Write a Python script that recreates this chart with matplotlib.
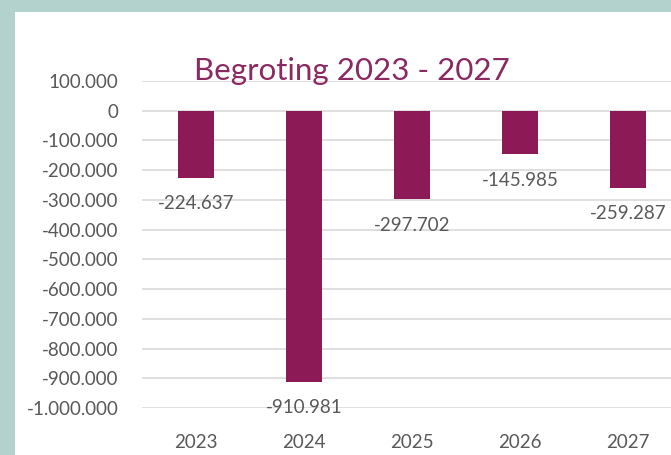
import matplotlib
matplotlib.use("Agg")
import matplotlib.pyplot as plt
from matplotlib.patches import Rectangle
from matplotlib.ticker import FuncFormatter, MultipleLocator

jaren = ["2023", "2024", "2025", "2026", "2027"]
saldo = [-224637, -910981, -297702, -145985, -259287]

BAR = "#8c1a57"
TITLE = "#8a2a60"
TEAL = "#b3d1cd"
GRID = "#dcdcdc"
TXT = "#595959"

plt.rcParams["font.family"] = ["Lato", "DejaVu Sans"]


def nl(v, pos=None):
    # Dutch style thousands separator
    s = f"{abs(int(round(v))):,}".replace(",", ".")
    return "-" + s if v < 0 else s


W, H = 671, 455
fig = plt.figure(figsize=(W / 100, H / 100), dpi=100)
fig.patch.set_facecolor(TEAL)
fig.patches.append(Rectangle((15 / W, 0), 1, 1 - 12 / H, transform=fig.transFigure,
                             facecolor="white", edgecolor="none", zorder=-5))

ax = fig.add_axes([142 / W, 1 - 408 / H, 540 / W, (408 - 81) / H])
ax.set_facecolor("none")
ax.set_zorder(2)

x = range(len(jaren))
ax.bar(x, saldo, width=0.33, color=BAR, zorder=3)

for i, v in enumerate(saldo):
    ax.annotate(nl(v), (i, v), xytext=(0, -26), textcoords="offset pixels",
                ha="center", va="center", fontsize=13.5, color=TXT)

ax.set_xlim(-0.5, 4.5)
ax.set_ylim(-1000000, 100000)
ax.yaxis.set_major_locator(MultipleLocator(100000))
ax.yaxis.set_major_formatter(FuncFormatter(nl))
ax.set_xticks(list(x))
ax.set_xticklabels(jaren)
ax.grid(axis="y", color=GRID, linewidth=1.3, zorder=0)
ax.tick_params(axis="y", length=0, pad=17, labelsize=13.5, labelcolor=TXT)
ax.tick_params(axis="x", length=0, pad=19, labelsize=13.5, labelcolor=TXT)
for s in ax.spines.values():
    s.set_visible(False)

fig.text(352 / W, 1 - 71 / H, "Begroting 2023 - 2027", ha="center", va="center",
         fontsize=22.5, color=TITLE)

fig.savefig("out.png", dpi=100, facecolor=fig.get_facecolor())
